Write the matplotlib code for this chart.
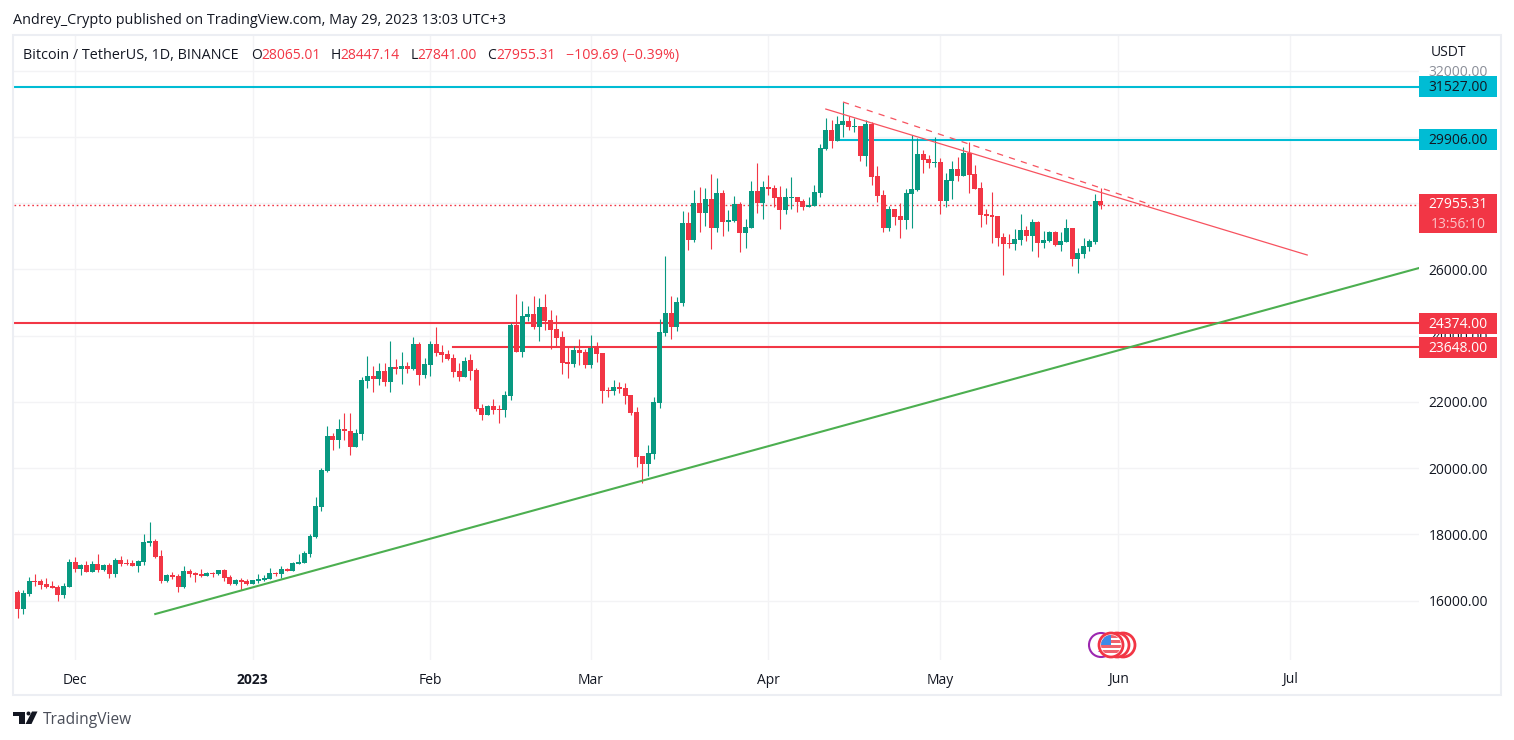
import pandas as pd
import matplotlib
matplotlib.use("Agg")
import matplotlib.pyplot as plt
import matplotlib.dates as mdates
from matplotlib.patches import Rectangle, Circle, Polygon

# daily BTCUSDT candles
first_day = "2022-11-20"
opens = [16669, 16257, 15743, 16186, 16589, 16579, 16498, 16438, 16408, 16166,
         16418, 17163, 16951, 17072, 16861, 17102, 16921, 17072, 16800, 17223,
         17133, 17133, 17042, 17163, 17737, 17797, 17344, 16589, 16770, 16740,
         16408, 16891, 16830, 16800, 16740, 16830, 16800, 16921, 16710, 16498,
         16619, 16589, 16498, 16589, 16619, 16649, 16830, 16800, 16951, 16891,
         17102, 17133, 17404, 17918, 18824, 19912, 20969, 20848, 21181, 21120,
         20637, 21030, 22631, 22782, 22691, 22933, 22601, 23054, 22993, 23084,
         22993, 23749, 22812, 23114, 23749, 23507, 23446, 23326, 22933, 22752,
         23265, 22963, 21815, 21604, 21875, 21785, 21755, 22178, 24323, 23507,
         24564, 24655, 24262, 24866, 24474, 24202, 23960, 23205, 23144, 23567,
         23507, 23114, 23658, 23477, 22359, 22329, 22450, 22419, 22208, 21694,
         20365, 20123, 20425, 21966, 24081, 24685, 24262, 24987, 27404, 26890,
         28008, 27706, 28129, 27253, 28310, 27434, 27464, 27978, 27102, 27253,
         28371, 28008, 28492, 28461, 28190, 27797, 28159, 28190, 28069, 27887,
         27918, 28310, 29640, 30214, 29881, 30365, 30485, 30314, 30334, 29428,
         30395, 28824, 28250, 27253, 27827, 27616, 27495, 28280, 28401, 29489,
         29338, 29217, 29247, 28069, 28673, 29036, 28824, 29519, 28885, 28462,
         27676, 27646, 27616, 26982, 26800, 26770, 26891, 27193, 27012, 27435,
         26800, 26861, 27132, 26740, 26830, 27253, 26317, 26468, 26679, 26830,
         28065.01]
highs = [16669, 16317, 16317, 16710, 16800, 16649, 16679, 16589, 16458, 16518,
         17253, 17314, 17102, 17193, 17193, 17404, 17102, 17133, 17284, 17344,
         17253, 17223, 17223, 18009, 18371, 17858, 17525, 16800, 16861, 16800,
         17042, 16951, 16861, 16951, 16861, 16861, 16921, 16951, 16770, 16649,
         16679, 16649, 16619, 16800, 16770, 16982, 16861, 17042, 16982, 17163,
         17404, 17495, 18009, 19126, 20003, 21271, 21060, 21483, 21664, 21664,
         21181, 22752, 23386, 23084, 23175, 23175, 23839, 23295, 23507, 23205,
         23960, 23809, 23326, 23839, 24262, 23718, 23567, 23446, 23175, 23356,
         23446, 23024, 21936, 21906, 22087, 21906, 22329, 24383, 25259, 25048,
         24897, 25199, 25138, 25259, 24776, 24625, 24141, 23658, 23688, 23900,
         23598, 24020, 23809, 23477, 22450, 22661, 22601, 22570, 22208, 21845,
         20365, 20697, 22147, 24504, 26407, 25199, 25168, 27767, 27736, 28401,
         28492, 28461, 28884, 28764, 28401, 27797, 28220, 28039, 27525, 28673,
         29217, 28673, 28854, 28552, 28522, 28461, 28794, 28190, 28129, 28190,
         28552, 29791, 30576, 30516, 30637, 31059, 30637, 30576, 30334, 30516,
         30455, 29126, 28401, 27918, 27827, 28009, 28432, 30063, 29972, 29610,
         29459, 30002, 29368, 28915, 29277, 29398, 29700, 29851, 29157, 28643,
         27827, 28341, 27616, 27102, 27072, 27223, 27676, 27314, 27525, 27465,
         27163, 27163, 27163, 27132, 27525, 27253, 26649, 26951, 26921, 28280,
         28447.14]
lows = [16236, 15481, 15592, 16136, 16438, 16357, 16377, 16377, 15985, 16075,
        16418, 16861, 16770, 16861, 16861, 16861, 16891, 16679, 16710, 17042,
        17072, 17042, 16861, 17072, 17646, 17284, 16528, 16559, 16649, 16257,
        16377, 16710, 16559, 16710, 16740, 16710, 16770, 16589, 16468, 16468,
        16317, 16468, 16498, 16528, 16589, 16649, 16740, 16679, 16891, 16891,
        17102, 17133, 17314, 17888, 18703, 19882, 20546, 20607, 20848, 20395,
        20637, 20848, 22419, 22298, 22510, 22480, 22298, 22842, 22540, 22872,
        22963, 22510, 22721, 22782, 23386, 23205, 23265, 22752, 22631, 22752,
        22661, 21724, 21453, 21604, 21634, 21362, 21543, 22057, 23507, 23356,
        24443, 24202, 23839, 24171, 23598, 23658, 22842, 22721, 23054, 23114,
        23024, 23024, 23205, 21966, 22147, 22208, 22268, 21936, 21604, 20033,
        19549, 19761, 20274, 21815, 23990, 23900, 24141, 24897, 26588, 26830,
        27132, 27313, 26619, 27132, 27011, 27162, 27434, 26528, 26649, 27253,
        27706, 27525, 28250, 27887, 27223, 27676, 27827, 27736, 27797, 27887,
        27918, 28190, 29609, 29670, 29881, 30002, 30214, 30153, 29277, 29126,
        28552, 28039, 27132, 27163, 27344, 26951, 27223, 27253, 28371, 28915,
        29066, 29096, 27676, 27888, 28129, 28673, 28824, 28311, 28432, 27284,
        27374, 26800, 26710, 25833, 26649, 26589, 26740, 26861, 26558, 26377,
        26649, 26830, 26710, 26558, 26830, 26105, 25894, 26347, 26558, 26770,
        27841.00]
closes = [16236, 15743, 16226, 16589, 16569, 16468, 16418, 16377, 16166, 16438,
          17163, 16951, 17072, 16861, 17102, 16921, 17072, 16800, 17223, 17102,
          17102, 17042, 17193, 17767, 17797, 17314, 16589, 16770, 16710, 16408,
          16891, 16800, 16770, 16740, 16830, 16810, 16921, 16679, 16498, 16619,
          16569, 16498, 16619, 16649, 16679, 16830, 16800, 16951, 16901, 17133,
          17163, 17435, 17948, 18855, 19942, 20969, 20848, 21181, 21120, 20637,
          21060, 22661, 22782, 22691, 22933, 22601, 23054, 22993, 23084, 22993,
          23749, 22812, 23144, 23749, 23477, 23416, 23295, 22903, 22752, 23235,
          22933, 21785, 21604, 21875, 21755, 21765, 22208, 24323, 23507, 24594,
          24655, 24262, 24866, 24443, 24171, 23930, 23175, 23144, 23567, 23477,
          23114, 23628, 23446, 22329, 22329, 22450, 22389, 22178, 21664, 20335,
          20123, 20456, 21996, 24111, 24685, 24262, 25017, 27404, 26890, 28008,
          27706, 28129, 27253, 28310, 27434, 27495, 27978, 27102, 27283, 28371,
          28008, 28492, 28431, 28159, 27797, 28190, 28190, 28039, 27887, 27948,
          28341, 29670, 30214, 29881, 30395, 30485, 30304, 30334, 29428, 30395,
          28794, 28220, 27253, 27827, 27586, 27495, 28311, 28432, 29489, 29308,
          29217, 29247, 28069, 28703, 29036, 28824, 29519, 28855, 28432, 27646,
          27616, 27586, 26951, 26770, 26770, 26921, 27193, 27012, 27435, 26800,
          26891, 27132, 26740, 26861, 27253, 26317, 26498, 26710, 26861, 28065.01,
          27955.31]

last_price = 27955.31
levels_cyan = [31527, 29906]
levels_red = [24374, 23648]
level_starts = {29906: "2023-04-13", 23648: "2023-02-05"}

# drawn trend lines: dates and prices of their two ends
green_dates = ["2022-12-15", "2023-07-24"]
green_prices = [15592, 26068]
solid_dates = ["2023-04-11", "2023-07-04"]
solid_prices = [30847, 26438]
dash_dates = ["2023-04-14", "2023-06-06"]
dash_prices = [31060, 28000]

month_ticks = ["2022-12-01", "2023-01-01", "2023-02-01", "2023-03-01",
               "2023-04-01", "2023-05-01", "2023-06-01", "2023-07-01"]
month_labels = ["Dec", "2023", "Feb", "Mar", "Apr", "May", "Jun", "Jul"]
price_ticks = [16000, 18000, 20000, 22000, 24000, 26000, 28000, 30000, 32000]

GREEN = "#089981"
RED = "#F23645"
CYAN = "#00BCD4"
TEXT = "#131722"
GRID = "#F3F3F5"
W, H = 1514, 740

plt.rcParams["font.family"] = "Open Sans"
fig = plt.figure(figsize=(W / 100, H / 100), dpi=100, facecolor="white")


def px_box(left, top, right, bottom):
    return [left / W, 1 - bottom / H, (right - left) / W, (bottom - top) / H]


def to_num(dates):
    return mdates.date2num(pd.to_datetime(dates))


# main pane
ax = fig.add_axes(px_box(14, 36, 1419, 660))
days = to_num(pd.date_range(first_day, periods=len(opens)))
ax.set_xlim(days[0] + 0.35, days[0] + 0.35 + 1405 / 5.731)
ax.set_ylim(14203, 33054)
for s in ax.spines.values():
    s.set_visible(False)

ax.set_xticks(to_num(month_ticks))
ax.set_xticklabels(month_labels)
ax.get_xticklabels()[1].set_fontweight("bold")
ax.yaxis.tick_right()
ax.set_yticks(price_ticks)
ax.set_yticklabels(["%.2f" % p for p in price_ticks])
ax.tick_params(axis="both", length=0, labelsize=10, labelcolor=TEXT)
ax.tick_params(axis="y", pad=7)
ax.tick_params(axis="x", pad=9)
ax.get_yticklabels()[-1].set_color("#8a8e98")
ax.grid(True, color=GRID, lw=1)
ax.set_axisbelow(True)

# levels and trend lines
ax.axhline(levels_cyan[0], color=CYAN, lw=1.5, zorder=2)
ax.plot([to_num(level_starts[29906]), ax.get_xlim()[1]], [levels_cyan[1]] * 2, color=CYAN, lw=1.5, zorder=2)
ax.axhline(levels_red[0], color=RED, lw=1.5, zorder=2)
ax.plot([to_num(level_starts[23648]), ax.get_xlim()[1]], [levels_red[1]] * 2, color=RED, lw=1.5, zorder=2)
ax.axhline(last_price, color=RED, lw=1, ls=(0, (1.2, 2)), zorder=2)

# candles
colors = [GREEN if c >= o else RED for o, c in zip(opens, closes)]
body_low = [min(o, c) for o, c in zip(opens, closes)]
body_size = [max(abs(c - o), 25) for o, c in zip(opens, closes)]
ax.vlines(days, lows, highs, colors=colors, lw=0.8, zorder=3)
ax.bar(days, body_size, bottom=body_low, width=0.87, color=colors, linewidth=0, zorder=4)

ax.plot(to_num(green_dates), green_prices, color="#4CAF50", lw=1.5, zorder=5)
ax.plot(to_num(solid_dates), solid_prices, color="#F7525F", lw=0.9, zorder=5)
ax.plot(to_num(dash_dates), dash_prices, color="#F7525F", lw=0.9, ls=(0, (5, 5)), zorder=5)

# everything around the pane, in pixels
top = fig.add_axes([0, 0, 1, 1], zorder=5)
top.set_xlim(0, W)
top.set_ylim(H, 0)
top.axis("off")
top.patch.set_alpha(0)

top.add_patch(Rectangle((13, 35), 1488, 660, fc="none", ec="#ECEEF3", lw=1.5, zorder=1))
top.text(13, 20.5, "Andrey_Crypto published on TradingView.com, May 29, 2023 13:03 UTC+3",
         fontsize=10.35, color=TEXT, va="center")
top.text(23, 55.5, "Bitcoin / TetherUS, 1D, BINANCE", fontsize=10.4, color=TEXT, va="center")
for label, x_label, value, x_value in [("O", 251, "28065.01", 261), ("H", 331, "28447.14", 340),
                                       ("L", 411, "27841.00", 417), ("C", 487, "27955.31", 496)]:
    top.text(x_label, 55.5, label, fontsize=10, color=TEXT, va="center")
    top.text(x_value, 55.5, value, fontsize=10, color=RED, va="center")
top.text(566, 55.5, "\u2212109.69 (\u22120.39%)", fontsize=10.25, color=RED, va="center")
top.text(1431, 52.5, "USDT", fontsize=10, color=TEXT, va="center")

# price labels
for y0, y1, fill, color, price in [(76, 97, CYAN, TEXT, "31527.00"), (129, 150, CYAN, TEXT, "29906.00"),
                                   (313, 334, RED, "white", "24374.00"), (337, 358, RED, "white", "23648.00")]:
    top.add_patch(Rectangle((1419, y0), 78, y1 - y0, fc=fill, ec="none", zorder=2))
    top.text(1458, (y0 + y1) / 2 + 1, price, fontsize=10, color=color, ha="center", va="center", zorder=3)
top.add_patch(Rectangle((1419, 194), 78, 39, fc=RED, ec="none", zorder=2))
top.text(1458, 205, "27955.31", fontsize=10, color="white", ha="center", va="center", zorder=3)
top.text(1458, 224, "13:56:10", fontsize=10, color="#FBC2C7", ha="center", va="center", zorder=3)

# economic event badges
top.add_patch(Circle((1101, 645), 12, fc="white", ec="#9C27B0", lw=1.5, zorder=2))
top.text(1100, 651, "2", fontsize=6, color="#9C27B0", ha="center", va="center", zorder=2)
for cx in [1123, 1117, 1111]:
    top.add_patch(Circle((cx, 645), 12, fc="white", ec=RED, lw=2, zorder=3))
flag = Circle((1111, 645), 10, transform=top.transData)
for y in [635, 640, 645, 650]:
    s = top.add_patch(Rectangle((1100, y), 22, 2.8, fc="#F0616D", ec="none", zorder=4))
    s.set_clip_path(flag)
s = top.add_patch(Rectangle((1100, 634), 11, 11, fc="#3D8BE8", ec="none", zorder=5))
s.set_clip_path(flag)

# TradingView logo
LOGO = "#131722"
top.add_patch(Polygon([(13, 711.5), (25, 711.5), (25, 724), (19, 724), (19, 715.5), (13, 715.5)], fc=LOGO, ec="none"))
top.add_patch(Circle((28.5, 713.5), 2, fc=LOGO, ec="none"))
top.add_patch(Polygon([(32, 711.5), (37.5, 711.5), (31.5, 724), (25.5, 724)], fc=LOGO, ec="none"))
top.text(43, 719.5, "TradingView", fontsize=11.2, color="#4A4E59", va="center")

fig.savefig("out.png", dpi=100, facecolor="white")
